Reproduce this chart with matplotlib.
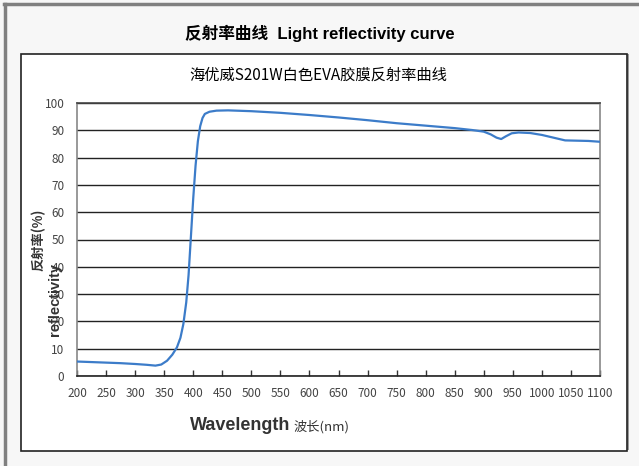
import matplotlib.pyplot as plt
from matplotlib.patches import Rectangle
from matplotlib.lines import Line2D

# wavelength (nm) / reflectivity (%)
wavelength = [200, 225, 250, 275, 300, 320, 335, 345, 355, 364, 372, 378, 383,
              388, 392, 396, 400, 404, 408, 412, 416, 420, 428, 440, 460, 500,
              550, 600, 650, 700, 750, 800, 850, 880, 900, 912, 922, 930, 938,
              948, 960, 980, 1000, 1020, 1040, 1060, 1080, 1100]
reflect = [5.3, 5.1, 4.9, 4.7, 4.4, 4.1, 3.8, 4.2, 5.6, 7.8, 10.5, 14.0, 19.0,
           27.0, 37.0, 51.0, 65.0, 77.0, 86.0, 91.5, 94.5, 96.0, 96.8, 97.2, 97.3, 97.0,
           96.4, 95.6, 94.7, 93.7, 92.6, 91.7, 90.8, 90.1, 89.5, 88.5, 87.3, 86.8, 87.8,
           88.9, 89.2, 89.0, 88.3, 87.3, 86.3, 86.2, 86.1, 85.8]

xticks = list(range(200, 1101, 50))
yticks = list(range(0, 101, 10))

CJK = ["Noto Sans CJK SC", "DejaVu Sans"]
plt.rcParams["font.family"] = CJK

fig = plt.figure(figsize=(6.39, 4.66), dpi=100)
fig.patch.set_facecolor("#f7f7f7")

# screenshot frame (top + left only)
fig.add_artist(Line2D([4 / 639, 1], [1 - 4 / 466, 1 - 4 / 466], color="#808080", lw=2.5,
                      transform=fig.transFigure))
fig.add_artist(Line2D([5 / 639, 5 / 639], [0, 1 - 4 / 466], color="#808080", lw=2.5,
                      transform=fig.transFigure))

# white chart box
fig.add_artist(Rectangle((23 / 639, 16 / 466), 606 / 639, 396 / 466, transform=fig.transFigure,
                         facecolor="#9a9a9a", edgecolor="none", zorder=0))
fig.add_artist(Rectangle((21 / 639, 15 / 466), 606 / 639, 397 / 466, transform=fig.transFigure,
                         facecolor="white", edgecolor="#222222", lw=1.2, zorder=0))

fig.text(0.5, 1 - 33 / 466, "反射率曲线  Light reflectivity curve", ha="center", va="center",
         fontsize=12, fontweight="bold", family=["Liberation Sans", "Noto Sans CJK SC"])
fig.text(318 / 639, 1 - 75 / 466, "海优威S201W白色EVA胶膜反射率曲线", ha="center", va="center",
         fontsize=11)

ax = fig.add_axes([77 / 639, 90 / 466, 523 / 639, 273 / 466])
ax.set_facecolor("white")
ax.plot(wavelength, reflect, color="#3c7cc9", lw=1.6, zorder=3)

ax.set_xlim(200, 1100)
ax.set_ylim(0, 100)
ax.set_xticks(xticks)
ax.set_yticks(yticks)
ax.tick_params(axis="x", direction="in", length=4, width=1, color="#333333",
               labelsize=8.5, labelcolor="#444444", pad=8)
ax.tick_params(axis="y", length=0, labelsize=8.5, labelcolor="#444444", pad=9)
for lab in ax.get_xticklabels() + ax.get_yticklabels():
    lab.set_family("Noto Sans CJK SC")
ax.grid(axis="y", color="#222222", lw=1)
ax.set_axisbelow(True)
ax.spines["left"].set_color("#888888")
ax.spines["right"].set_color("#888888")
ax.spines["top"].set_color("#444444")
ax.spines["bottom"].set_color("#222222")
for s in ax.spines.values():
    s.set_linewidth(1.2)

fig.text(38 / 639, 1 - 240 / 466, "反射率(%)", rotation=90, ha="center", va="center",
         fontsize=9.5, fontweight="bold", color="#333333")
fig.text(55 / 639, 1 - 300 / 466, "reflectivity", rotation=90, ha="center", va="center",
         fontsize=10.5, fontweight="bold", color="#333333", family=["Liberation Sans"])

fig.text(240 / 639, 1 - 426 / 466, "Wavelength", ha="center", va="center",
         fontsize=13, fontweight="bold", color="#333333", family=["Liberation Sans"])
fig.text(322 / 639, 1 - 427 / 466, "波长(nm)", ha="center", va="center",
         fontsize=9.5, color="#333333")

fig.savefig("out.png", dpi=100, facecolor=fig.get_facecolor())
